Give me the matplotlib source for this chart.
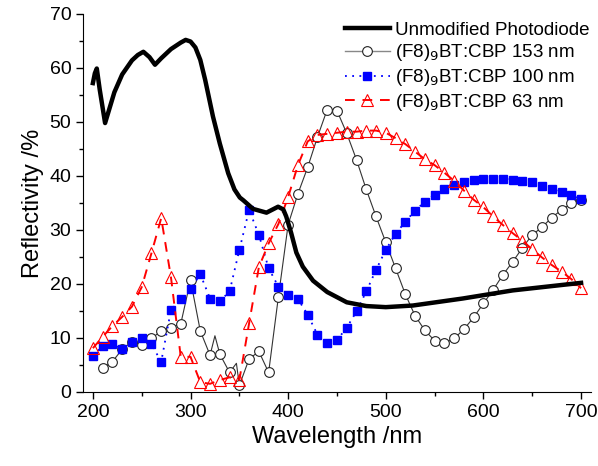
import numpy as np
import matplotlib
matplotlib.use('Agg')
import matplotlib.pyplot as plt
from matplotlib.ticker import MultipleLocator

plt.rcParams['font.family'] = ['Liberation Sans', 'DejaVu Sans']

# unmodified photodiode
pd_wl = [200, 202, 204, 207, 212.5, 217, 222, 230, 240, 246, 251.7, 258, 263.6, 270, 280, 290,
         295, 300, 305, 310, 315, 323, 330, 338.6, 345, 350.5, 354, 364, 377.8, 389.7,
         395, 398, 403, 408.4, 415, 425.5, 440, 460, 480, 500, 527.7, 578.8, 630, 700]
pd_r = [57.2, 59.0, 59.9, 56.0, 49.8, 52.5, 55.5, 58.8, 61.4, 62.4, 63.0, 62.0, 60.6, 61.8, 63.5, 64.7,
        65.2, 64.9, 63.8, 61.5, 57.8, 51.0, 46.0, 40.5, 37.5, 36.0, 35.5, 33.9, 33.2, 34.3,
        33.8, 32.5, 29.5, 25.8, 23.2, 20.6, 18.5, 16.6, 15.9, 15.7, 16.0, 17.3, 18.8, 20.2]

# (F8)9BT:CBP 153 nm - markers every 10 nm
s153_wl = list(range(210, 701, 10))
s153_r = [4.4, 5.6, 7.9, 9.3, 8.7, 9.9, 11.3, 11.9, 12.6, 20.7,
          11.3, 6.8, 7.0, 3.6, 1.2, 6.1, 7.5, 3.6, 17.6, 31.0,
          36.7, 41.6, 47.2, 52.3, 52.1, 47.9, 43.0, 37.5, 32.5, 27.7,
          22.9, 18.1, 14.1, 11.4, 9.5, 9.0, 9.9, 11.6, 13.8, 16.4,
          18.9, 21.7, 24.1, 26.7, 29.1, 30.5, 32.3, 33.7, 34.9, 35.5]
# extra wiggles of the 153 nm line between markers
s153_extra_wl = [325, 347]
s153_extra_r = [10.4, 5.3]

# (F8)9BT:CBP 100 nm
s100_wl = list(range(200, 701, 10))
s100_r = [6.7, 8.5, 8.9, 7.9, 9.3, 9.9, 8.8, 5.6, 15.2, 17.3,
          19.0, 21.8, 17.3, 16.8, 18.6, 26.3, 33.7, 29.1, 22.9, 19.5,
          18.0, 17.2, 14.3, 10.6, 9.0, 9.6, 11.9, 14.9, 18.6, 22.6,
          26.3, 29.3, 31.5, 33.6, 35.2, 36.5, 37.5, 38.3, 38.9, 39.3,
          39.5, 39.5, 39.5, 39.3, 39.0, 38.8, 38.2, 37.6, 37.0, 36.4, 35.8]

# (F8)9BT:CBP 63 nm
s63_wl = list(range(200, 701, 10))
s63_r = [8.1, 10.2, 12.2, 13.9, 15.8, 19.4, 25.7, 32.2, 21.2, 6.5,
         6.5, 1.8, 1.5, 2.2, 2.7, 2.2, 12.7, 23.1, 27.5, 31.1,
         36.1, 42.0, 46.4, 47.6, 47.8, 48.0, 48.2, 48.2, 48.4, 48.4,
         48.0, 47.0, 45.9, 44.5, 43.1, 42.0, 40.6, 39.1, 37.3, 35.6,
         34.2, 32.5, 30.9, 29.4, 28.0, 26.4, 24.9, 23.5, 22.3, 20.9, 19.2]

fig = plt.figure(figsize=(5.98, 4.66), dpi=100)
ax = fig.add_axes([0.139, 0.159, 0.849, 0.811])

ax.plot(pd_wl, pd_r, color='black', lw=3.2, label='Unmodified Photodiode', zorder=5,
        solid_joinstyle='round')

line_wl = np.array(s153_wl + s153_extra_wl)
line_r = np.array(s153_r + s153_extra_r)
order = np.argsort(line_wl)
ax.plot(line_wl[order], line_r[order], color='#333333', lw=0.8, zorder=3)
ax.plot(s153_wl, s153_r, ls='none', marker='o', ms=7, mfc='white', mec='#222222',
        mew=0.8, zorder=4)
ax.plot([], [], color='#888888', lw=1, marker='o', ms=7, mfc='white', mec='#222222',
        mew=0.8, label='(F8)$_9$BT:CBP 153 nm')

ax.plot(s100_wl, s100_r, color='blue', ls=(0, (1, 3)), lw=1.3, marker='s', ms=6,
        mfc='blue', mec='blue', label='(F8)$_9$BT:CBP 100 nm', zorder=4)

ax.plot(s63_wl, s63_r, color='red', ls=(0, (5, 4)), lw=1.4, marker='^', ms=8,
        mfc='none', mec='red', mew=0.8, label='(F8)$_9$BT:CBP 63 nm', zorder=4)

ax.set_xlim(190, 710)
ax.set_ylim(0, 70)
ax.xaxis.set_major_locator(MultipleLocator(100))
ax.xaxis.set_minor_locator(MultipleLocator(50))
ax.yaxis.set_major_locator(MultipleLocator(10))
ax.yaxis.set_minor_locator(MultipleLocator(5))
ax.tick_params(which='major', direction='out', length=5, width=1, labelsize=14)
ax.tick_params(which='minor', direction='out', length=3, width=1)
ax.spines['top'].set_visible(False)
ax.spines['right'].set_visible(False)

ax.set_xlabel('Wavelength /nm', fontsize=17)
ax.set_ylabel('Reflectivity /%', fontsize=17)

ax.legend(loc='upper right', bbox_to_anchor=(1.02, 1.01), frameon=False, fontsize=13.5,
          handlelength=2.4, handletextpad=0.3, labelspacing=0.2, borderaxespad=0.2)

fig.savefig('out.png', dpi=100)
